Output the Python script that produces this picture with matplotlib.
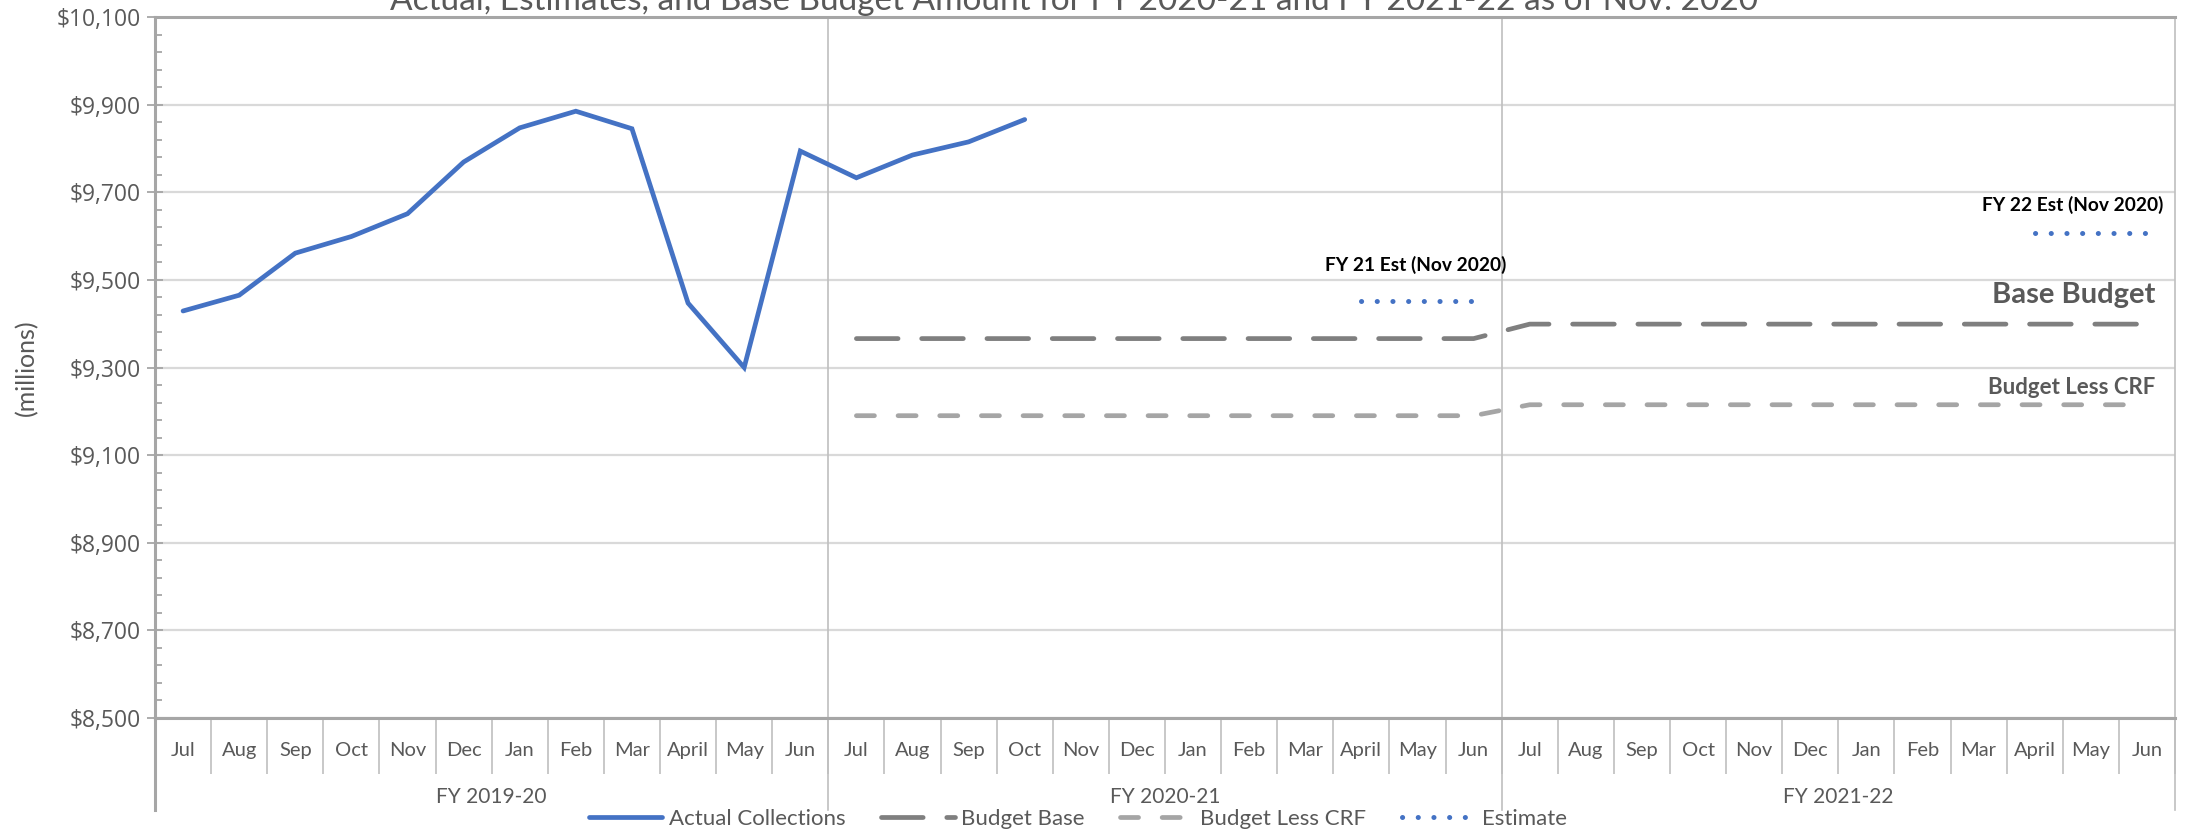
import numpy as np
import matplotlib.pyplot as plt
from matplotlib.ticker import FixedLocator, FuncFormatter

plt.rcParams['font.family'] = ['Lato', 'DejaVu Sans']
plt.rcParams['lines.scale_dashes'] = False

# ---------------------- chart data ------------------------#
months = ['Jul', 'Aug', 'Sep', 'Oct', 'Nov', 'Dec', 'Jan', 'Feb', 'Mar', 'April', 'May', 'Jun'] * 3
fiscal_years = ['FY 2019-20', 'FY 2020-21', 'FY 2021-22']

nan = np.nan
actual_collections = [9429, 9465, 9561, 9599, 9651, 9769, 9847, 9885, 9845, 9447, 9300, 9794,
                      9733, 9785, 9815, 9866] + [nan] * 20
budget_base = [nan] * 12 + [9366] * 12 + [9399] * 12
budget_less_crf = [nan] * 12 + [9190] * 12 + [9215] * 12
estimate = [nan] * 21 + [9451] * 3 + [nan] * 9 + [9608] * 3

y_ticks = [8500, 8700, 8900, 9100, 9300, 9500, 9700, 9900, 10100]

title = 'Actual, Estimates, and Base Budget Amount for FY 2020-21 and FY 2021-22 as of Nov. 2020'

TEXT = '#595959'
BLUE = '#4472C4'

# ---------------------- figure layout ------------------------#
W, H = 2196, 833
fig = plt.figure(figsize=(W / 100, H / 100), dpi=100)
ax = fig.add_axes([155 / W, 115 / H, (2175 - 155) / W, (718 - 17) / H])

x = np.arange(len(months))
ax.plot(x, actual_collections, color=BLUE, lw=3.4, solid_capstyle='round',
        solid_joinstyle='miter', label='Actual Collections', zorder=5)
ax.plot(x, budget_base, color='#7f7f7f', lw=3.4, dashes=(30, 17), dash_capstyle='round',
        label='Budget Base', zorder=4)
ax.plot(x, budget_less_crf, color='#a5a5a5', lw=3.4, dashes=(13, 17), dash_capstyle='round',
        label='Budget Less CRF', zorder=4)
ax.plot(x, estimate, color=BLUE, lw=3.6, dashes=(0.1, 11.2), dash_capstyle='round',
        label='Estimate', zorder=4)

# annotations
ax.text(21.97, 9535, 'FY 21 Est (Nov 2020)', fontsize=13.8, fontweight='bold', color='black',
        ha='center', va='center')
ax.text(33.67, 9672, 'FY 22 Est (Nov 2020)', fontsize=13.8, fontweight='bold', color='black',
        ha='center', va='center')
ax.text(35.15, 9465, 'Base Budget', fontsize=21, fontweight='bold', color=TEXT,
        ha='right', va='center')
ax.text(35.15, 9254, 'Budget Less CRF', fontsize=16, fontweight='bold', color=TEXT,
        ha='right', va='center')

# ---------------------- axes styling ------------------------#
ax.set_xlim(-0.5, len(months) - 0.5)
ax.set_ylim(8500, 10100)
ax.yaxis.set_major_locator(FixedLocator(y_ticks))
ax.yaxis.set_minor_locator(FixedLocator(np.arange(8500, 10101, 40)))
ax.yaxis.set_major_formatter(FuncFormatter(lambda v, p: f'${v:,.0f}'))
ax.grid(axis='y', which='major', color='#d9d9d9', lw=1.6, zorder=0)
ax.set_axisbelow(True)

ax.tick_params(axis='y', which='major', direction='inout', length=11, width=1.3,
               color='#a6a6a6', labelsize=16.5, labelcolor=TEXT, pad=5)
ax.tick_params(axis='y', which='minor', direction='in', length=5, width=1.3, color='#a6a6a6')
for lab in ax.get_yticklabels():
    lab.set_family(['Open Sans', 'DejaVu Sans'])

ax.set_xticks(x)
ax.set_xticklabels(months)
ax.xaxis.set_minor_locator(FixedLocator(np.arange(-0.5, len(months), 1.0)))
ax.tick_params(axis='x', which='major', length=0, labelsize=14.5, labelcolor=TEXT, pad=17)
ax.tick_params(axis='x', which='minor', direction='out', length=40, width=1.2, color='#bfbfbf')

ax.set_ylabel('(millions)', fontsize=18, color=TEXT)
ax.yaxis.set_label_coords(-0.058, 0.5)

for side in ['left', 'bottom', 'top']:
    ax.spines[side].set_color('#a6a6a6')
    ax.spines[side].set_linewidth(2.2)
ax.spines['right'].set_color('#bfbfbf')
ax.spines['right'].set_linewidth(1.2)

# fiscal year separators reaching down through the category labels
xt = ax.get_xaxis_transform()
low = -(810 - 718) / (718 - 17)
for b in [11.5, 23.5]:
    ax.plot([b, b], [low, 1.0], transform=xt, color='#bfbfbf', lw=1.2, clip_on=False, zorder=1)
ax.plot([-0.5, -0.5], [low, 0], transform=xt, color='#a6a6a6', lw=2.2, clip_on=False)
ax.plot([35.5, 35.5], [low, 0], transform=xt, color='#bfbfbf', lw=1.2, clip_on=False)

for i, fy in enumerate(fiscal_years):
    ax.text(i * 12 + 5.5, -(797 - 718) / (718 - 17), fy, transform=xt, fontsize=15,
            color=TEXT, ha='center', va='center')

# title is cut off at the top edge like in the source image
fig.text(1074 / W, 1 - 10 / H, title, fontsize=24, color=TEXT, ha='center', va='baseline')

fig.legend(loc='center', bbox_to_anchor=(1078 / W, 14 / H), ncol=4, frameon=False,
           fontsize=16, labelcolor=TEXT, handlelength=3.3, handletextpad=0.3,
           columnspacing=1.6, borderpad=0)

fig.savefig('out.png', dpi=100)
